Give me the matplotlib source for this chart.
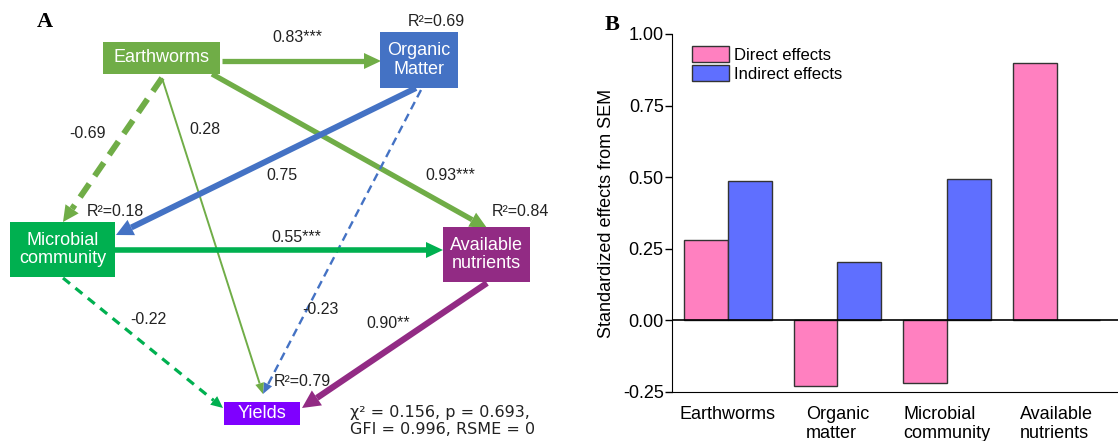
import numpy as np
import matplotlib
matplotlib.use('Agg')
import matplotlib.pyplot as plt
from matplotlib.patches import Rectangle, Polygon

plt.rcParams['font.family'] = ['Liberation Sans', 'DejaVu Sans']

# ---- data: panel B (standardized effects on yields)
categories = ["Earthworms", "Organic\nmatter", "Microbial\ncommunity", "Available\nnutrients"]
direct_effects = [0.28, -0.23, -0.22, 0.90]
indirect_effects = [0.485, 0.205, 0.493, 0.0]

# ---- data: panel A (SEM path diagram)
node_names = ["Earthworms", "Organic\nMatter", "Microbial\ncommunity", "Available\nnutrients", "Yields"]
node_r2 = [None, "R²=0.69", "R²=0.18", "R²=0.84", "R²=0.79"]
path_from = [0, 0, 0, 0, 1, 1, 2, 2, 3]
path_to = [1, 3, 2, 4, 2, 4, 3, 4, 4]
path_coef = ["0.83***", "0.93***", "-0.69", "0.28", "0.75", "-0.23", "0.55***", "-0.22", "0.90**"]
fit_text = "χ² = 0.156, p = 0.693,\nGFI = 0.996, RSME = 0"

# layout of panel A in pixel units (x right, y down)
node_box = [(103, 42, 117, 32), (380, 32, 78, 56), (10, 222, 105, 55),
            (443, 227, 87, 55), (224, 402, 76, 23)]
node_color = ["#70AD47", "#4472C4", "#00B050", "#922B84", "#7F00FF"]
r2_pos = [None, (436, 22), (115, 211), (520, 212), (302, 382)]
# start, end, colour, width(pt), dashes, head length, head width, label pos
path_style = [
    ((222, 61), (381, 61), "#70AD47", 3.8, None, 17, 16, (297, 37)),
    ((212, 74), (487, 228), "#70AD47", 3.8, None, 17, 16, (450, 176)),
    ((162, 78), (63, 222), "#70AD47", 4.3, (2.7, 1.6), 16, 16, (87, 133)),
    ((162, 78), (263, 394), "#70AD47", 1.4, None, 11, 9, (205, 129)),
    ((416, 88), (116, 235), "#4472C4", 4.3, None, 17, 17, (282, 176)),
    ((421, 90), (263, 394), "#4472C4", 1.7, (3.5, 2.2), 11, 9, (320, 309)),
    ((115, 250), (443, 250), "#00B050", 4.0, None, 17, 16, (296, 237)),
    ((63, 278), (223, 408), "#00B050", 2.3, (2.8, 2.2), 12, 11, (148, 320)),
    ((487, 283), (302, 408), "#922B84", 4.5, None, 18, 18, (388, 324)),
]

fig = plt.figure(figsize=(11.18, 4.41), dpi=100)

# ================= panel A
axa = fig.add_axes([0, 0, 560 / 1118, 1])
axa.set_xlim(0, 560)
axa.set_ylim(441, 0)
axa.axis('off')

for k in range(len(path_from)):
    p0, p1, col, lw, dash, hl, hw, lab = path_style[k]
    p0 = np.array(p0, float)
    p1 = np.array(p1, float)
    d = (p1 - p0) / np.linalg.norm(p1 - p0)
    n = np.array([-d[1], d[0]])
    base = p1 - hl * d
    kw = dict(color=col, lw=lw, solid_capstyle='butt', zorder=2)
    if dash is not None:
        kw['dashes'] = dash
        kw['dash_capstyle'] = 'butt'
    axa.plot([p0[0], base[0]], [p0[1], base[1]], **kw)
    axa.add_patch(Polygon([p1, base + n * hw / 2, base - n * hw / 2],
                          closed=True, color=col, lw=0, zorder=3))
    axa.text(lab[0], lab[1], path_coef[k], ha='center', va='center',
             fontsize=11.5, color='#222222', zorder=5)

for i, name in enumerate(node_names):
    x, y, w, h = node_box[i]
    axa.add_patch(Rectangle((x, y), w, h, facecolor=node_color[i],
                            edgecolor='none', zorder=4))
    axa.text(x + w / 2, y + h / 2, name, ha='center', va='center',
             color='white', fontsize=13, linespacing=1.15, zorder=5)
    if node_r2[i] is not None:
        axa.text(r2_pos[i][0], r2_pos[i][1], node_r2[i], ha='center',
                 va='center', fontsize=11.5, color='#222222', zorder=5)

axa.text(350, 421, fit_text, ha='left', va='center', fontsize=11.5,
         color='#222222', linespacing=1.15, family='DejaVu Sans')

fig.text(45 / 1118, 1 - 22 / 441, "A", ha='center', va='center', fontsize=16,
         fontweight='bold', family='Liberation Serif')

# ================= panel B
axb = fig.add_axes([672 / 1118, 1 - 392 / 441, 446 / 1118, 358 / 441])
xpos = np.arange(len(categories))
bw = 0.4
axb.bar(xpos - bw / 2, direct_effects, bw, color="#FF80C0", edgecolor="#333333",
        lw=1, label="Direct effects", zorder=2)
axb.bar(xpos + bw / 2, indirect_effects, bw, color="#5F6FFF", edgecolor="#333333",
        lw=1, label="Indirect effects", zorder=2)
axb.axhline(0, color='black', lw=1.2, zorder=3)

axb.set_xlim(-0.51, 3.56)
axb.set_ylim(-0.25, 1.0)
axb.set_yticks([-0.25, 0, 0.25, 0.5, 0.75, 1.0])
axb.set_yticklabels(["-0.25", "0.00", "0.25", "0.50", "0.75", "1.00"])
axb.set_xticks(xpos)
axb.set_xticklabels(categories, multialignment='left')
axb.tick_params(axis='x', length=0, pad=10, labelsize=13)
axb.tick_params(axis='y', length=5, width=1, direction='out', labelsize=13, pad=1)
axb.spines['top'].set_visible(False)
axb.spines['right'].set_visible(False)
axb.set_ylabel("Standardized effects from SEM", fontsize=13)
axb.yaxis.set_label_coords((615 - 672) / 446, 0.5)

axb.legend(loc='upper left', bbox_to_anchor=(0.03, 0.985), frameon=False,
           fontsize=12, handlelength=2.2, handleheight=1.1, labelspacing=0.15,
           handletextpad=0.3, borderaxespad=0)

fig.text(612 / 1118, 1 - 25 / 441, "B", ha='center', va='center', fontsize=16,
         fontweight='bold', family='Liberation Serif')

fig.savefig("out.png", dpi=100)
